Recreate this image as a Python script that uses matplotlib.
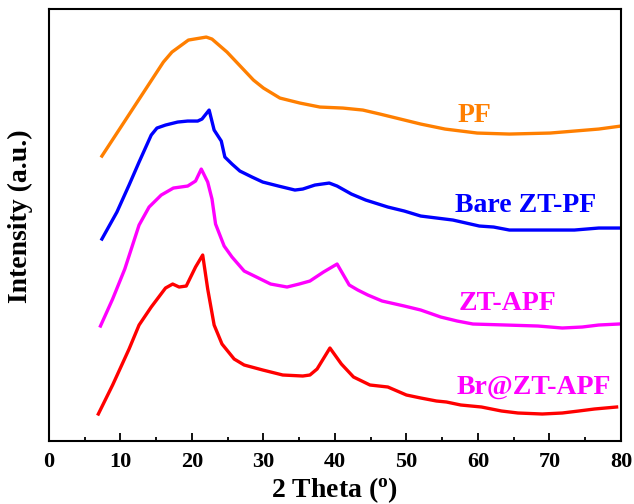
import matplotlib
matplotlib.use("Agg")
from matplotlib import pyplot as plt
from matplotlib.ticker import MultipleLocator

# 2 theta / relative intensity (offset curves)
pf_x = [7.4, 16.0, 17.2, 19.5, 22.0, 22.8, 24.9, 28.6, 30.0, 32.3, 35.1, 37.9, 41.1,
        43.9, 46.3, 52.0, 55.4, 59.9, 64.4, 70.1, 73.5, 76.9, 80.0]
pf_y = [285, 379, 389, 401, 404, 402, 389, 361, 353, 343, 338, 334, 333,
        331, 327, 317, 312, 308, 307, 308, 310, 312, 315]

bare_x = [7.4, 9.5, 11.2, 12.6, 14.3, 15.1, 16.3, 18.0, 19.4, 20.8, 21.4, 22.4, 23.1,
          24.1, 24.6, 25.6, 26.7, 28.4, 29.9, 32.1, 34.4, 35.5, 37.2, 39.2, 40.3,
          42.3, 44.3, 47.4, 49.7, 52.0, 56.5, 60.2, 62.2, 64.4, 68.4, 73.5, 76.9, 80.0]
bare_y = [202, 229, 256, 279, 306, 313, 316, 319, 320, 320, 322, 331, 311,
          300, 284, 277, 270, 264, 259, 255, 251, 252, 256, 258, 255,
          247, 241, 234, 230, 225, 221, 215, 214, 211, 211, 211, 213, 213]

apf_x = [7.2, 8.9, 10.6, 12.6, 14.0, 15.7, 17.4, 19.4, 20.5, 21.3, 22.2, 22.8, 23.3,
         24.5, 25.6, 27.3, 29.3, 31.0, 33.3, 35.0, 36.5, 38.4, 40.3, 42.0, 43.2,
         44.6, 46.6, 49.7, 52.0, 54.8, 57.1, 59.3, 63.9, 68.4, 71.8, 74.6, 76.9, 79.7]
apf_y = [115, 142, 172, 216, 234, 246, 253, 255, 260, 272, 259, 242, 217,
         195, 184, 170, 163, 157, 154, 157, 160, 169, 177, 156, 151,
         146, 140, 135, 131, 124, 120, 117, 116, 115, 113, 114, 116, 117]

br_x = [6.9, 8.9, 11.2, 12.6, 14.3, 16.3, 17.3, 18.2, 19.2, 20.5, 21.5, 22.2, 23.1,
        24.2, 25.9, 27.3, 29.9, 32.7, 35.5, 36.5, 37.5, 39.3, 40.9, 42.6, 44.9,
        47.4, 50.0, 52.0, 54.2, 55.6, 57.6, 60.5, 63.3, 65.6, 69.0, 71.8, 74.1, 76.3, 79.4]
br_y = [27, 56, 92, 116, 134, 153, 157, 154, 155, 174, 186, 152, 116,
        97, 82, 76, 71, 66, 65, 66, 72, 93, 77, 64, 56,
        54, 46, 43, 40, 39, 36, 34, 30, 28, 27, 28, 30, 32, 34]

plt.rcParams['font.family'] = ['Liberation Serif', 'DejaVu Serif']
plt.rcParams['font.weight'] = 'bold'
plt.rcParams['mathtext.default'] = 'regular'

figure = plt.figure(figsize=[6.34, 5.04], dpi=100)
ax = figure.add_axes([0.0773, 0.125, 0.902, 0.857])

ax.plot(pf_x, pf_y, color='#FF7F00', lw=2.4)
ax.plot(bare_x, bare_y, color='#0000FF', lw=2.4)
ax.plot(apf_x, apf_y, color='#FF00FF', lw=2.4)
ax.plot(br_x, br_y, color='#FF0000', lw=2.4)

ax.text(475 / 634, 1 - 115 / 504, 'PF', color='#FF7F00', fontsize=20, fontweight='bold',
        ha='center', va='center', transform=figure.transFigure)
ax.text(526 / 634, 1 - 205 / 504, 'Bare ZT-PF', color='#0000FF', fontsize=20, fontweight='bold',
        ha='center', va='center', transform=figure.transFigure)
ax.text(507 / 634, 1 - 303 / 504, 'ZT-APF', color='#FF00FF', fontsize=20, fontweight='bold',
        ha='center', va='center', transform=figure.transFigure)
ax.text(534 / 634, 1 - 387 / 504, 'Br@ZT-APF', color='#FF00FF', fontsize=20, fontweight='bold',
        ha='center', va='center', transform=figure.transFigure)

ax.set_xlim(0, 80)
ax.set_ylim(0, 432)
ax.xaxis.set_major_locator(MultipleLocator(10))
ax.xaxis.set_minor_locator(MultipleLocator(5))
ax.tick_params(axis='x', which='major', direction='in', length=6, width=1.3, labelsize=16, pad=8)
ax.tick_params(axis='x', which='minor', direction='in', length=3, width=1.3)
ax.set_yticks([])
for s in ax.spines.values():
    s.set_linewidth(1.5)

ax.set_xlabel('2 Theta ($^{o}$)', fontsize=20, fontweight='bold', labelpad=2)
ax.set_ylabel('Intensity (a.u.)', fontsize=20, fontweight='bold')
ax.yaxis.set_label_coords(-0.028, 0.52)

figure.savefig('out.png', dpi=100)
